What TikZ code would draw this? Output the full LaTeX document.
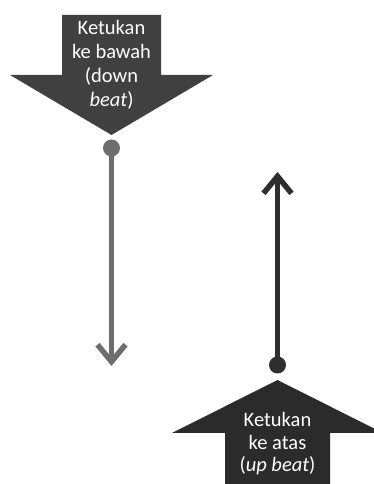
\documentclass[tikz,border=0pt]{standalone}
\usepackage{fontspec}
\setmainfont{Carlito}
\usepackage{xcolor}
\usetikzlibrary{arrows.meta}

\definecolor{downgray}{HTML}{404040}
\definecolor{upgray}{HTML}{2B2B2B}
\definecolor{linegray}{HTML}{6E6E6E}
\definecolor{linedark}{HTML}{2E2E2E}

\begin{document}
\begin{tikzpicture}[
  x=1pt, y=1pt,
  font=\fontsize{20.5}{24}\selectfont,
  every node/.style={align=center},
  bigarr/.style={fill=#1, draw=none},
  lbl/.style={text=white, inner sep=0pt},
  beatdot/.style={circle, inner sep=0pt, minimum size=17pt, fill=#1},
  beatline/.style={line width=5.5pt, draw=#1, -{Straight Barb[length=17pt,width=28pt]}}
]
  \useasboundingbox (0,0) rectangle (373,484);

  % big arrows
  \fill[bigarr=downgray] (62,469) -- (161,469) -- (161,409) -- (213,409)
    -- (111.5,349) -- (10,409) -- (62,409) -- cycle;
  \fill[bigarr=upgray] (225,0) -- (330,0) -- (330,51) -- (383,51)
    -- (277.5,104) -- (172,51) -- (225,51) -- cycle;

  \node[lbl] (down) at (111.5,419) {Ketukan\\ke bawah\\(down\\\textit{beat})};
  \node[lbl, font=\fontsize{20.5}{22.5}\selectfont] (up) at (277.5,40) {Ketukan\\ke atas\\(\textit{up beat})};

  % beat lines
  \node[beatdot=linegray] (dstart) at (111.5,336) {};
  \coordinate (dend) at (111.5,118);
  \node[beatdot=linedark] (ustart) at (277.5,119) {};
  \coordinate (uend) at (277.5,312);

  \draw[beatline=linegray] (dstart.center) -- (dend);
  \draw[beatline=linedark] (ustart.center) -- (uend);
\end{tikzpicture}
\end{document}
